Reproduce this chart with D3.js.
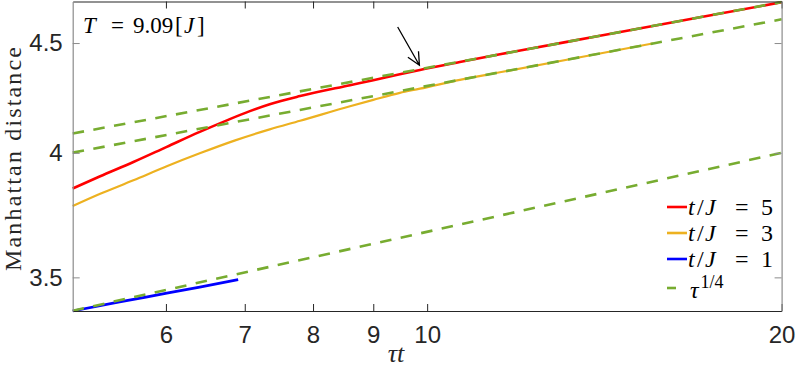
<!DOCTYPE html>
<html lang="en">
<head>
<meta charset="UTF-8"/>
<title>Manhattan distance vs tau t</title>
<script src="https://d3js.org/d3.v7.min.js"></script>
<style>
	body { margin: 0; background: #fff; }
	svg { display: block; }
	.tick text { font-family: "Liberation Sans", Arial, sans-serif; }
	.math { font-family: "Liberation Serif", "Times New Roman", serif; }
</style>
</head>
<body>
<script>

	var w = 797;
	var h = 367;

	// data
	var tauRed    = [5, 5.27, 5.63, 6.01, 6.41, 6.76, 7.07, 7.35, 7.8, 8.6, 9.0, 9.48, 9.86, 10.66, 11.53, 14.02, 17.05, 20];
	var distRed   = [3.850, 3.900, 3.961, 4.026, 4.091, 4.142, 4.183, 4.214, 4.251, 4.301, 4.324, 4.352, 4.372, 4.409, 4.446, 4.535, 4.626, 4.701];

	var tauYellow  = [5, 5.27, 5.63, 6.01, 6.41, 6.87, 7.35, 7.8, 8.6, 9.0, 9.48, 9.86, 10.66, 11.53, 14.02, 15.55];
	var distYellow = [3.778, 3.827, 3.884, 3.943, 3.998, 4.054, 4.102, 4.140, 4.205, 4.234, 4.266, 4.285, 4.326, 4.361, 4.450, 4.498];

	var tauBlue  = [5, 5.48, 6.01, 6.41, 6.91];
	var distBlue = [3.376, 3.409, 3.441, 3.464, 3.492];

	// tau^(1/4) guide lines, start and end values
	var tauFit  = [5, 20];
	var fitTop  = [4.084, 4.702];
	var fitMid  = [4.001, 4.616];
	var fitLow  = [3.377, 4.0];

	var xTicks = [6, 7, 8, 9, 10, 20];
	var yTicks = [3.5, 4, 4.5];

	var legendLabels = ["5", "3", "1"];
	var colors = ["#ff0000", "#edb120", "#0000ff", "#77ac30"];

	var margin = {left: 72.7, right: 781.6, top: 1.5, bottom: 311};

	var xScale = d3.scaleLog()
		.domain([5, 20])
		.range([margin.left, margin.right]);

	var yScale = d3.scaleLog()
		.domain([3.376, 4.705])
		.range([margin.bottom, margin.top]);

	var svg = d3.select("body")
		.append("svg")
		.attr("width", w)
		.attr("height", h);

	var line = d3.line()
		.x(function(d) { return xScale(d[0]); })
		.y(function(d) { return yScale(d[1]); })
		.curve(d3.curveMonotoneX);

	function pairs(xs, ys) {
		return xs.map(function(x, i) { return [x, ys[i]]; });
	}

	var plot = svg.append("g");

	// curves
	var series = [
		{data: pairs(tauRed, distRed), color: colors[0], width: 2.6},
		{data: pairs(tauYellow, distYellow), color: colors[1], width: 2.2},
		{data: pairs(tauBlue, distBlue), color: colors[2], width: 2.8}
	];

	plot.selectAll(".curve")
		.data(series)
		.enter()
		.append("path")
		.attr("class", "curve")
		.attr("d", function(d) { return line(d.data); })
		.attr("fill", "none")
		.attr("stroke", function(d) { return d.color; })
		.attr("stroke-width", function(d) { return d.width; });

	// dashed guide lines on top
	var fits = [fitTop, fitMid, fitLow];
	var straight = d3.line()
		.x(function(p) { return xScale(p[0]); })
		.y(function(p) { return yScale(p[1]); });

	plot.selectAll(".fit")
		.data(fits)
		.enter()
		.append("path")
		.attr("class", "fit")
		.attr("d", function(d) { return straight(pairs(tauFit, d)); })
		.attr("fill", "none")
		.attr("stroke", colors[3])
		.attr("stroke-width", 2.6)
		.attr("stroke-dasharray", "11.5,9.5");

	// axes
	var xAxisB = d3.axisBottom(xScale).tickValues(xTicks).tickFormat(d3.format("d")).tickSizeInner(-7).tickSizeOuter(0).tickPadding(15);
	var xAxisT = d3.axisTop(xScale).tickValues(xTicks).tickFormat("").tickSizeInner(-7).tickSizeOuter(0);
	var yAxisL = d3.axisLeft(yScale).tickValues(yTicks).tickFormat(d3.format("")).tickSizeInner(-7).tickSizeOuter(0).tickPadding(10);
	var yAxisR = d3.axisRight(yScale).tickValues(yTicks).tickFormat("").tickSizeInner(-7).tickSizeOuter(0);

	svg.append("g").attr("transform", "translate(0," + margin.bottom + ")").call(xAxisB);
	svg.append("g").attr("transform", "translate(0," + margin.top + ")").call(xAxisT);
	svg.append("g").attr("transform", "translate(" + margin.left + ",0)").call(yAxisL).attr("class", "yax");
	svg.append("g").attr("transform", "translate(" + margin.right + ",0)").call(yAxisR).attr("class", "yax");

	svg.selectAll(".domain").attr("stroke", "#262626").attr("stroke-width", 1.2);
	svg.selectAll(".tick line").attr("stroke", "#262626");
	svg.selectAll(".yax .domain").attr("stroke", "#8c8c8c");
	svg.selectAll(".yax .tick line").attr("stroke", "#8c8c8c");
	svg.selectAll(".tick text").attr("fill", "#262626").attr("font-size", 24);

	// axis labels
	svg.append("text")
		.attr("class", "math")
		.attr("text-anchor", "middle")
		.attr("transform", "rotate(-90)")
		.attr("x", -159)
		.attr("y", 21)
		.attr("font-size", 24)
		.attr("textLength", 224)
		.attr("lengthAdjust", "spacing")
		.attr("fill", "#262626")
		.text("Manhattan distance");

	svg.append("text")
		.attr("class", "math")
		.attr("text-anchor", "middle")
		.attr("x", 396)
		.attr("y", 362)
		.attr("font-size", 26)
		.attr("font-style", "italic")
		.attr("fill", "#262626")
		.text("τt");

	// helper for math text written piece by piece
	function mathText(g, x0, y0, size, parts) {
		var t = g.append("text")
			.attr("class", "math")
			.attr("y", y0)
			.attr("font-size", size)
			.attr("fill", "#000");
		parts.forEach(function(p) {
			t.append("tspan")
				.attr("x", x0 + p[1])
				.attr("font-style", p[2] ? "italic" : "normal")
				.text(p[0]);
		});
		return t;
	}

	// title in the corner
	mathText(svg, 83, 33, 23, [
		["T", 0, true], ["=", 28, false], ["9.09", 50, false],
		["[", 92, false], ["J", 101, true], ["]", 114, false]
	]);

	// arrow
	var tail = [xScale(9.44), yScale(4.578)];
	var tip = [xScale(9.85), yScale(4.394)];
	var ang = Math.atan2(tip[1] - tail[1], tip[0] - tail[0]);
	var hl = 14, ha = 0.45;
	svg.append("path")
		.attr("d", "M" + tail + "L" + tip +
			"M" + [tip[0] - hl * Math.cos(ang - ha), tip[1] - hl * Math.sin(ang - ha)] +
			"L" + tip +
			"L" + [tip[0] - hl * Math.cos(ang + ha), tip[1] - hl * Math.sin(ang + ha)])
		.attr("fill", "none")
		.attr("stroke", "#000")
		.attr("stroke-width", 1.3);

	// legend
	var legend = svg.append("g").attr("transform", "translate(667,0)");
	var rows = [207, 233, 259];
	legendLabels.forEach(function(lab, i) {
		legend.append("line")
			.attr("x1", 0).attr("x2", 20)
			.attr("y1", rows[i]).attr("y2", rows[i])
			.attr("stroke", colors[i])
			.attr("stroke-width", 2.6);
		mathText(legend, 21, rows[i] + 8, 24, [
			["t", 0, true], ["/", 9, false], ["J", 17, true],
			["=", 47, false], [lab, 73, false]
		]);
	});
	legend.append("line")
		.attr("x1", 0).attr("x2", 9)
		.attr("y1", 288).attr("y2", 288)
		.attr("stroke", colors[3])
		.attr("stroke-width", 2.6);
	var tl = legend.append("text")
		.attr("class", "math")
		.attr("x", 23)
		.attr("y", 298)
		.attr("font-size", 24)
		.attr("fill", "#000");
	tl.append("tspan").attr("font-style", "italic").text("τ");
	tl.append("tspan").attr("font-size", 18).attr("dx", 2).attr("dy", -10).text("1/4");

</script>
</body>
</html>
